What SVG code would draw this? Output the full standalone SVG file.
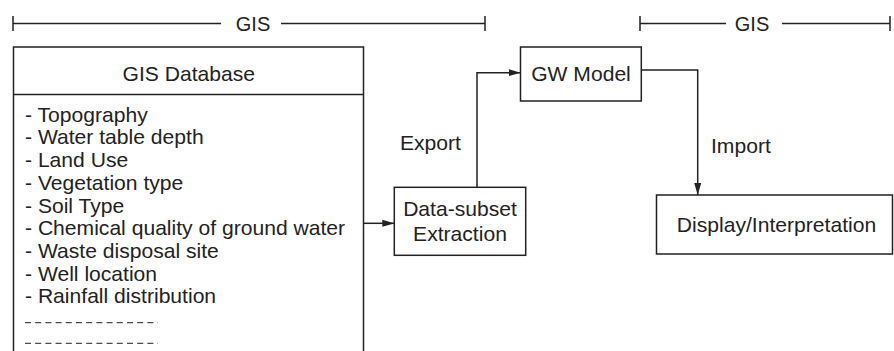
<svg xmlns="http://www.w3.org/2000/svg" width="894" height="351" viewBox="0 0 894 351">
<style>
.box{fill:#fff;stroke:#222;stroke-width:1.5}
.ln{fill:none;stroke:#222;stroke-width:1.5}
.dash{fill:none;stroke:#222;stroke-width:1;stroke-dasharray:6 4.2}
text{font-family:"Liberation Sans",Arial,Helvetica,sans-serif;font-size:21.1px;fill:#222}
.c{text-anchor:middle}
.g{font-size:20px}
</style>
<defs>
<marker id="arr" markerUnits="userSpaceOnUse" markerWidth="12" markerHeight="8" refX="12" refY="4" orient="auto">
<path d="M0,0.5 L12,4 L0,7.5 z" fill="#222"/>
</marker>
</defs>
<rect width="894" height="351" fill="#fff"/>
<g id="brackets">
<path class="ln" d="M13,23.5 H221 M281,23.5 H485 M13,16 V31 M485,16 V31"/>
<text class="c g" x="253" y="30.5">GIS</text>
<path class="ln" d="M640,23.5 H726 M782,23.5 H890 M640,16 V31 M890,16 V31"/>
<text class="c g" x="752" y="30.5">GIS</text>
</g>
<g id="gis-database">
<rect class="box" x="13.5" y="47" width="350" height="320"/>
<path class="ln" d="M13.5,94.5 H363.5"/>
<text class="c" x="188.8" y="81">GIS Database</text>
<text x="25" y="121.7">- Topography</text>
<text x="25" y="144.4">- Water table depth</text>
<text x="25" y="167.1">- Land Use</text>
<text x="25" y="189.8">- Vegetation type</text>
<text x="25" y="212.5">- Soil Type</text>
<text x="25" y="235.2">- Chemical quality of ground water</text>
<text x="25" y="257.9">- Waste disposal site</text>
<text x="25" y="280.6">- Well location</text>
<text x="25" y="303.3">- Rainfall distribution</text>
<path class="dash" d="M25,322.7 H158 M25,343.3 H158"/>
</g>
<g id="data-subset">
<rect class="box" x="394.3" y="187.3" width="131.4" height="68"/>
<text class="c" x="460" y="216">Data-subset</text>
<text class="c" x="460" y="240.5">Extraction</text>
</g>
<g id="gw-model">
<rect class="box" x="520.5" y="47" width="120.8" height="54"/>
<text class="c" x="581" y="81">GW Model</text>
</g>
<g id="display">
<rect class="box" x="656.5" y="195" width="236" height="59"/>
<text class="c" x="776.5" y="231.5">Display/Interpretation</text>
</g>
<g id="connectors">
<path class="ln" d="M363.5,223.3 H394.3" marker-end="url(#arr)"/>
<path class="ln" d="M477,187.3 V72.7 H520.5" marker-end="url(#arr)"/>
<path class="ln" d="M641.3,70 H697.7 V195" marker-end="url(#arr)"/>
<text x="400" y="150">Export</text>
<text x="711" y="153">Import</text>
</g>
</svg>
